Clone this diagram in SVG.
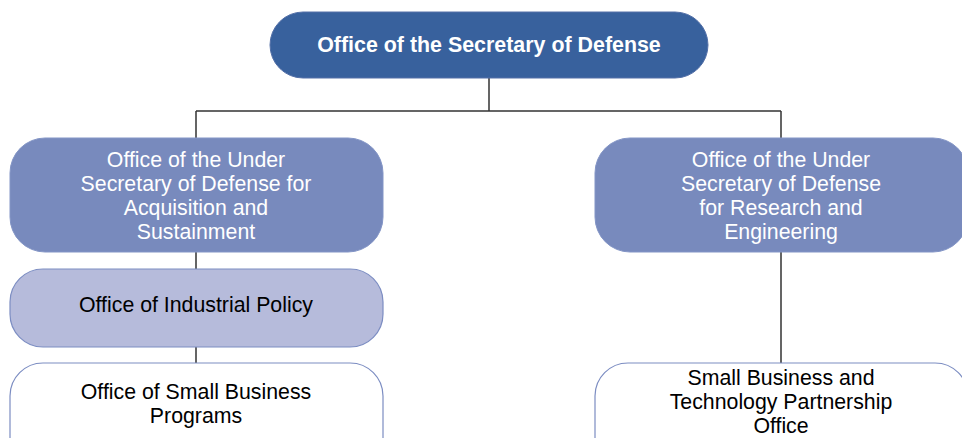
<svg xmlns="http://www.w3.org/2000/svg" width="962" height="438" viewBox="0 0 962 438">
<style>
text{font-family:"Liberation Sans",Arial,sans-serif;font-size:21.3px;text-anchor:middle}
.w{fill:#ffffff}
.k{fill:#000000}
.b{font-weight:bold;font-size:21.4px}
.top{fill:#38619D;stroke:#5470A8;stroke-width:1}
.mid{fill:#788ABD;stroke:#8395C6;stroke-width:1}
.lt{fill:#B6BBDB;stroke:#7C8DC2;stroke-width:1.2}
.wh{fill:#ffffff;stroke:#7C8DC2;stroke-width:1.2}
.ln{stroke:#333333;stroke-width:1.5;fill:none}
</style>
<rect width="962" height="438" fill="#ffffff"/>
<g id="connectors">
<path class="ln" d="M489 78V111M196 111H781M196 111V138M781 111V138M196 252V269M196 347V363M781 252V363"/>
</g>
<g id="osd">
<rect class="top" x="270" y="12" width="438" height="66" rx="33"/>
<text class="w b" x="489" y="52">Office of the Secretary of Defense</text>
</g>
<g id="usd-as">
<rect class="mid" x="10" y="138" width="373" height="114" rx="35"/>
<text class="w" x="196" y="167">Office of the Under</text>
<text class="w" x="196" y="191">Secretary of Defense for</text>
<text class="w" x="196" y="215">Acquisition and</text>
<text class="w" x="196" y="239">Sustainment</text>
</g>
<g id="usd-re">
<rect class="mid" x="595" y="138" width="373" height="114" rx="35"/>
<text class="w" x="781" y="167">Office of the Under</text>
<text class="w" x="781" y="191">Secretary of Defense</text>
<text class="w" x="781" y="215">for Research and</text>
<text class="w" x="781" y="239">Engineering</text>
</g>
<g id="oip">
<rect class="lt" x="10" y="269" width="373" height="78" rx="33"/>
<text class="k" x="196" y="312">Office of Industrial Policy</text>
</g>
<g id="osbp">
<rect class="wh" x="10" y="363" width="373" height="110" rx="33"/>
<text class="k" x="196" y="399">Office of Small Business</text>
<text class="k" x="196" y="423">Programs</text>
</g>
<g id="sbtpo">
<rect class="wh" x="595" y="363" width="373" height="110" rx="33"/>
<text class="k" x="781" y="385">Small Business and</text>
<text class="k" x="781" y="409">Technology Partnership</text>
<text class="k" x="781" y="433">Office</text>
</g>
</svg>
